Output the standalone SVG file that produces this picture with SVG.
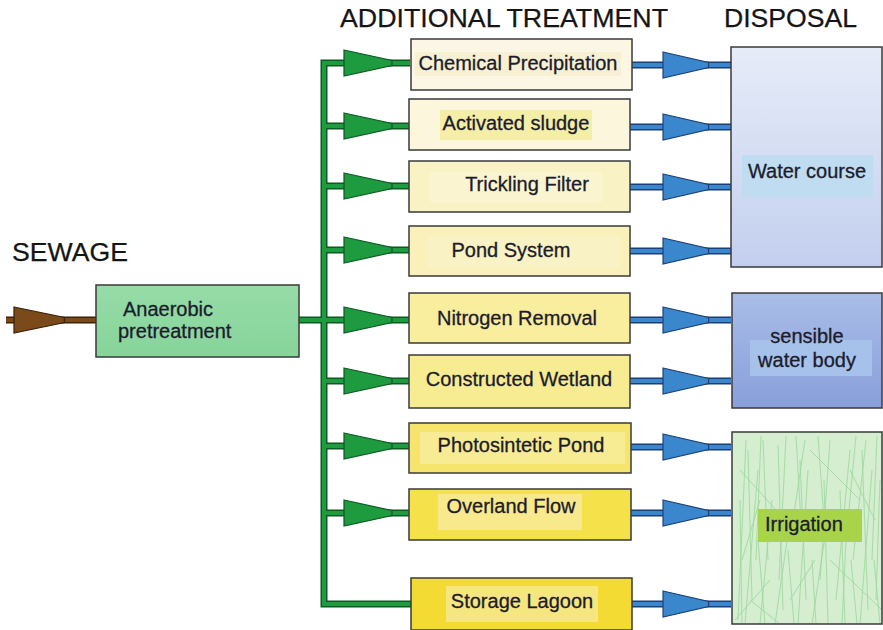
<svg xmlns="http://www.w3.org/2000/svg" width="883" height="630" viewBox="0 0 883 630">
  <style>
    .title { font-family: "Liberation Sans", Arial, sans-serif; font-size: 25px; fill: #151515; stroke: #151515; stroke-width: 0.25; }
    .lbl { font-family: "Liberation Sans", Arial, sans-serif; font-size: 20px; fill: #1c1c2c; stroke: #1c1c2c; stroke-width: 0.3; }
    .box { stroke: #3a3a3a; stroke-width: 1.5; }
    .pipe-g-o { stroke: #0d5a22; stroke-width: 7; fill: none; }
    .pipe-g { stroke: #1d9b3e; stroke-width: 4; fill: none; }
    .pipe-b-o { stroke: #1b3f76; stroke-width: 7; fill: none; }
    .pipe-b { stroke: #3b87cd; stroke-width: 4; fill: none; }
    .head-g { fill: #1d9b3e; stroke: #0d5a22; stroke-width: 1.2; }
    .head-b { fill: #3b87cd; stroke: #1b3f76; stroke-width: 1.2; }
    .grass { stroke: #62c06c; stroke-width: 0.8; opacity: 0.5; fill: none; }
  </style>
  <defs>
    <path id="head" d="M0,-13 L48,-2.5 L48,2.5 L0,13 Z"/>
    <linearGradient id="gWater" x1="0" y1="0" x2="0" y2="1">
      <stop offset="0" stop-color="#e6ecf8"/>
      <stop offset="1" stop-color="#c3cfee"/>
    </linearGradient>
    <linearGradient id="gSens" x1="0" y1="0" x2="0" y2="1">
      <stop offset="0" stop-color="#a9bde8"/>
      <stop offset="1" stop-color="#889fd9"/>
    </linearGradient>
    <linearGradient id="gAnaer" x1="0" y1="0" x2="0" y2="1">
      <stop offset="0" stop-color="#96dca8"/>
      <stop offset="1" stop-color="#86d49a"/>
    </linearGradient>
    <clipPath id="clipIrr">
      <rect x="732" y="432" width="150" height="192"/>
    </clipPath>
  </defs>

  <rect width="883" height="630" fill="#ffffff"/>

  <!-- Column headings -->
  <text class="title" x="340" y="27" textLength="328" lengthAdjust="spacingAndGlyphs">ADDITIONAL TREATMENT</text>
  <text class="title" x="724" y="27" textLength="133" lengthAdjust="spacingAndGlyphs">DISPOSAL</text>
  <text class="title" x="12" y="261" textLength="116" lengthAdjust="spacingAndGlyphs">SEWAGE</text>

  <!-- Connectors -->
  <g id="connectors">
    <!-- inflow -->
    <line x1="6" y1="320" x2="96" y2="320" stroke="#3d2208" stroke-width="7"/>
    <line x1="6" y1="320" x2="96" y2="320" stroke="#7a4a1a" stroke-width="4"/>
    <use href="#head" transform="translate(14,320) scale(1.05,1)" fill="#7a4a1a" stroke="#3d2208" stroke-width="1.2"/>

    <!-- green distribution manifold -->
    <g>
      <path class="pipe-g-o" d="M299,320 H324 M410,63 H324 V604 H411 M324,126 H409 M324,186 H409 M324,250 H409 M324,320 H409 M324,381 H409 M324,446 H409 M324,513 H409"/>
      <path class="pipe-g" d="M299,320 H324 M410,63 H324 V604 H411 M324,126 H409 M324,186 H409 M324,250 H409 M324,320 H409 M324,381 H409 M324,446 H409 M324,513 H409"/>
      <use href="#head" class="head-g" transform="translate(344,63)"/>
      <use href="#head" class="head-g" transform="translate(344,126)"/>
      <use href="#head" class="head-g" transform="translate(344,186)"/>
      <use href="#head" class="head-g" transform="translate(344,250)"/>
      <use href="#head" class="head-g" transform="translate(344,320)"/>
      <use href="#head" class="head-g" transform="translate(344,381)"/>
      <use href="#head" class="head-g" transform="translate(344,446)"/>
      <use href="#head" class="head-g" transform="translate(344,513)"/>
    </g>

    <!-- blue discharge lines -->
    <g>
      <path class="pipe-b-o" d="M632,65 H731 M630,127 H731 M630,187 H731 M630,251 H731 M630,320 H731 M630,381 H731 M631,447 H731 M631,513 H731 M632,604 H731"/>
      <path class="pipe-b" d="M632,65 H731 M630,127 H731 M630,187 H731 M630,251 H731 M630,320 H731 M630,381 H731 M631,447 H731 M631,513 H731 M632,604 H731"/>
      <use href="#head" class="head-b" transform="translate(663,65) scale(0.95,1)"/>
      <use href="#head" class="head-b" transform="translate(663,127) scale(0.95,1)"/>
      <use href="#head" class="head-b" transform="translate(663,187) scale(0.95,1)"/>
      <use href="#head" class="head-b" transform="translate(663,251) scale(0.95,1)"/>
      <use href="#head" class="head-b" transform="translate(663,320) scale(0.95,1)"/>
      <use href="#head" class="head-b" transform="translate(663,381) scale(0.95,1)"/>
      <use href="#head" class="head-b" transform="translate(663,447) scale(0.95,1)"/>
      <use href="#head" class="head-b" transform="translate(663,513) scale(0.95,1)"/>
      <use href="#head" class="head-b" transform="translate(663,604) scale(0.95,1)"/>
    </g>
  </g>

  <!-- Pretreatment -->
  <g id="anaerobic">
    <rect class="box" x="96" y="285" width="203" height="72" fill="url(#gAnaer)"/>
    <text class="lbl" x="123" y="316">Anaerobic</text>
    <text class="lbl" x="118" y="338">pretreatment</text>
  </g>

  <!-- Additional treatment options -->
  <g id="chemical-precipitation">
    <rect class="box" x="411" y="39" width="221" height="51" fill="#fbf7e4"/>
    <rect x="415" y="52" width="206" height="24" fill="#f7f0d2"/>
    <text class="lbl" x="518" y="70" text-anchor="middle">Chemical Precipitation</text>
  </g>
  <g id="activated-sludge">
    <rect class="box" x="409" y="99" width="221" height="51" fill="#fbf6dc"/>
    <rect x="440" y="110" width="152" height="30" fill="#f4eea6"/>
    <text class="lbl" x="516" y="130" text-anchor="middle">Activated sludge</text>
  </g>
  <g id="trickling-filter">
    <rect class="box" x="409" y="161" width="221" height="51" fill="#f9f2c4"/>
    <rect x="430" y="172" width="172" height="30" fill="#faf4d0"/>
    <text class="lbl" x="527" y="191" text-anchor="middle">Trickling Filter</text>
  </g>
  <g id="pond-system">
    <rect class="box" x="409" y="226" width="221" height="50" fill="#f9f0ba"/>
    <rect x="428" y="236" width="192" height="32" fill="#f9f2c4"/>
    <text class="lbl" x="511" y="257" text-anchor="middle">Pond System</text>
  </g>
  <g id="nitrogen-removal">
    <rect class="box" x="409" y="293" width="221" height="50" fill="#f8ee9e"/>
    <text class="lbl" x="517" y="325" text-anchor="middle">Nitrogen Removal</text>
  </g>
  <g id="constructed-wetland">
    <rect class="box" x="409" y="355" width="221" height="53" fill="#f8ec92"/>
    <text class="lbl" x="519" y="386" text-anchor="middle">Constructed Wetland</text>
  </g>
  <g id="photosintetic-pond">
    <rect class="box" x="409" y="423" width="222" height="50" fill="#f6e56c"/>
    <rect x="420" y="432" width="205" height="32" fill="#f7eb94"/>
    <text class="lbl" x="521" y="452" text-anchor="middle">Photosintetic Pond</text>
  </g>
  <g id="overland-flow">
    <rect class="box" x="409" y="489" width="222" height="51" fill="#f5e14a"/>
    <rect x="438" y="494" width="144" height="36" fill="#f7e98c"/>
    <text class="lbl" x="511" y="513" text-anchor="middle">Overland Flow</text>
  </g>
  <g id="storage-lagoon">
    <rect class="box" x="411" y="578" width="221" height="52" fill="#f3db34"/>
    <rect x="446" y="586" width="152" height="36" fill="#f6e680"/>
    <text class="lbl" x="522" y="608" text-anchor="middle">Storage Lagoon</text>
  </g>

  <!-- Disposal routes -->
  <g id="water-course">
    <rect class="box" x="731" y="47" width="151" height="220" fill="url(#gWater)"/>
    <rect x="742" y="155" width="131" height="42" fill="#bfdcf1"/>
    <text class="lbl" x="807" y="178" text-anchor="middle">Water course</text>
  </g>
  <g id="sensible-water-body">
    <rect class="box" x="732" y="293" width="150" height="115" fill="url(#gSens)"/>
    <rect x="750" y="340" width="122" height="36" fill="#a6c2ea"/>
    <text class="lbl" x="807" y="343" text-anchor="middle">sensible</text>
    <text class="lbl" x="807" y="367" text-anchor="middle">water body</text>
  </g>
  <g id="irrigation">
    <rect x="732" y="432" width="150" height="192" fill="#d4eecf"/>
    <g clip-path="url(#clipIrr)" class="grass">
      <path d="M738,620 L746,440 M745,624 L758,470 M752,600 L748,450 M760,624 L772,500 M768,560 L763,440 M775,624 L790,520 M783,610 L778,445 M790,540 L805,440 M798,624 L808,470 M806,600 L800,460 M812,624 L826,530 M820,580 L830,440 M828,624 L824,480 M836,600 L850,450 M845,624 L840,490 M853,560 L866,440 M860,624 L872,470 M868,610 L862,450 M876,600 L880,480"/>
      <path d="M742,624 L740,500 M756,560 L761,436 M765,624 L758,540 M779,580 L786,436 M794,624 L788,550 M802,540 L796,436 M816,624 L812,560 M824,520 L818,436 M842,624 L846,540 M848,520 L856,436 M857,624 L851,560 M872,560 L877,436 M880,624 L874,560"/>
      <path d="M740,470 L785,520 M750,600 L800,640 M810,450 L860,500 M770,580 L735,620 M830,560 L882,610 M760,500 L742,560 M850,470 L875,520 M790,600 L815,560"/>
    </g>
    <rect class="box" x="732" y="432" width="150" height="192" fill="none"/>
    <rect x="758" y="509" width="104" height="33" fill="#a8d44a"/>
    <text class="lbl" x="765" y="531">Irrigation</text>
  </g>
</svg>
